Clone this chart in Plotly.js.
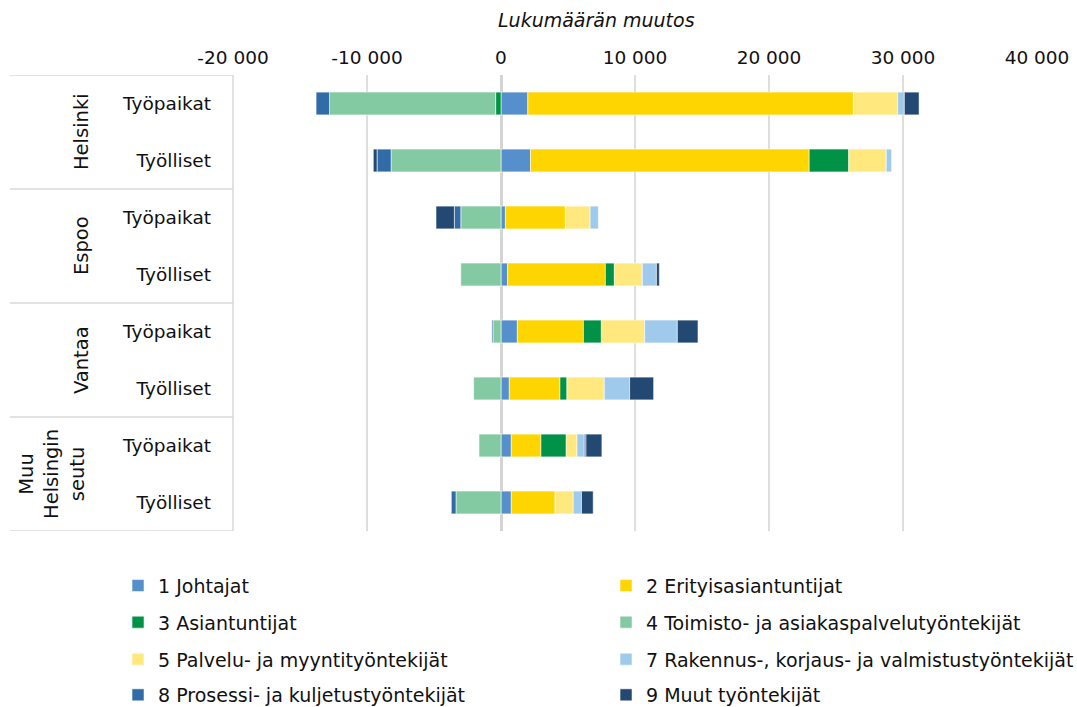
<!DOCTYPE html>
<html>
<head>
<meta charset="utf-8">
<script src="https://cdn.plot.ly/plotly-3.0.1.min.js"></script>
<style>
  html, body { margin: 0; padding: 0; background: #ffffff; }
  #chart { width: 1077px; height: 707px; }
</style>
</head>
<body>
<div id="chart"></div>
<script>
// ---- Data ----
const regions = ["Helsinki", "Helsinki", "Espoo", "Espoo", "Vantaa", "Vantaa", "Muu Helsingin seutu", "Muu Helsingin seutu"];
const kinds = ["Työpaikat", "Työlliset", "Työpaikat", "Työlliset", "Työpaikat", "Työlliset", "Työpaikat", "Työlliset"];
const groupLabels = ["Helsinki", "Espoo", "Vantaa", "Muu<br>Helsingin<br>seutu"];

const seriesNames = [
  "1 Johtajat",
  "2 Erityisasiantuntijat",
  "3 Asiantuntijat",
  "4 Toimisto- ja asiakaspalvelutyöntekijät",
  "5 Palvelu- ja myyntityöntekijät",
  "7 Rakennus-, korjaus- ja valmistustyöntekijät",
  "8 Prosessi- ja kuljetustyöntekijät",
  "9 Muut työntekijät"
];
const johtajat        = [2000, 2200, 330, 490, 1220, 620, 770, 770];
const erityis         = [24300, 20800, 4480, 7300, 4930, 3780, 2210, 3280];
const asiantuntijat   = [-400, 2950, 0, 670, 1340, 520, 1890, 0];
const toimisto        = [-12400, -8200, -3000, -3000, -600, -2040, -1640, -3360];
const palvelu         = [3300, 2800, 1840, 2090, 3230, 2790, 800, 1340];
const rakennus        = [500, 400, 620, 1050, 2440, 1890, 545, 620];
const prosessi        = [-1000, -1050, -480, 0, -80, 0, 125, -350];
const muut            = [1100, -280, -1370, 220, 1540, 1790, 1190, 870];
const seriesValues = [johtajat, erityis, asiantuntijat, toimisto, palvelu, rakennus, prosessi, muut];

const xTickVals = [-20000, -10000, 0, 10000, 20000, 30000, 40000];
const xTickText = ["-20 000", "-10 000", "0", "10 000", "20 000", "30 000", "40 000"];
const axisTitle = "Lukumäärän muutos";

// ---- Styles ----
const colors = ["#558FCC", "#FFD500", "#009246", "#83C9A2", "#FFE97F", "#A0CAEC", "#316BA8", "#234972"];
const legendIds = ["legend", "legend", "legend2", "legend2", "legend3", "legend3", "legend4", "legend4"];
const FONT = "DejaVu Sans";
const INK = "#111111";

const ids = regions.map((r, i) => r + " | " + kinds[i]);

const traces = seriesNames.map((name, k) => ({
  type: "bar",
  orientation: "h",
  name: name,
  y: ids,
  x: seriesValues[k],
  marker: { color: colors[k], line: { color: "rgba(255,255,255,0.55)", width: 1 } },
  legend: legendIds[k],
  hovertemplate: "%{y}: %{x}<extra>" + name + "</extra>"
}));

const legendBase = {
  orientation: "h",
  x: -0.1430,
  xanchor: "left",
  yanchor: "middle",
  entrywidth: 443,
  entrywidthmode: "pixels",
  bgcolor: "rgba(0,0,0,0)",
  font: { family: FONT, size: 19, color: INK },
  traceorder: "normal"
};

const lineColor = "#d9d9d9";
const shapes = [];
// horizontal group separators in the label box
[-0.5, 1.5, 3.5, 5.5, 7.5].forEach(v => {
  shapes.push({ type: "line", xref: "paper", yref: "y", x0: -0.2774, x1: 0, y0: v, y1: v,
    line: { color: lineColor, width: 1.5 } });
});
// right border of label box
shapes.push({ type: "line", xref: "paper", yref: "y", x0: 0, x1: 0, y0: -0.5, y1: 7.5,
  line: { color: lineColor, width: 1.5 } });

const annotations = [];
const groupX = [-0.1890, -0.1890, -0.1890, -0.2251];
groupLabels.forEach((g, i) => {
  annotations.push({
    xref: "paper", yref: "y", x: groupX[i], y: i * 2 + 0.5,
    text: g, showarrow: false, textangle: -90,
    font: { family: FONT, size: 19.5, color: INK },
    align: "center", xanchor: "center", yanchor: "middle"
  });
});
annotations.push({
  xref: "paper", yref: "paper", x: 0.4527, y: 1.1206,
  text: "<i>" + axisTitle + "</i>", showarrow: false,
  font: { family: FONT, size: 19, color: INK },
  xanchor: "center", yanchor: "middle"
});

const layout = {
  width: 1077,
  height: 707,
  margin: { l: 233, r: 40, t: 75, b: 176, autoexpand: false },
  paper_bgcolor: "#ffffff",
  plot_bgcolor: "#ffffff",
  font: { family: FONT, size: 18, color: INK },
  barmode: "relative",
  bargap: 0.6,
  showlegend: true,
  xaxis: {
    side: "top",
    range: [-20000, 40000],
    tickvals: xTickVals,
    ticktext: xTickText,
    ticks: "",
    showgrid: true,
    gridcolor: "#dedede",
    gridwidth: 1.5,
    zeroline: true,
    zerolinecolor: "#d4d4d4",
    zerolinewidth: 2.5,
    showline: false,
    ticklabelstandoff: 6,
    tickfont: { family: FONT, size: 18.5, color: INK },
    fixedrange: true
  },
  yaxis: {
    type: "category",
    categoryorder: "array",
    categoryarray: ids,
    range: [7.5, -0.5],
    tickvals: ids,
    ticktext: kinds,
    ticks: "",
    showgrid: false,
    zeroline: false,
    showline: false,
    ticklabelstandoff: 21,
    tickfont: { family: FONT, size: 18.5, color: INK },
    fixedrange: true
  },
  legend:  Object.assign({}, legendBase, { y: -0.120 }),
  legend2: Object.assign({}, legendBase, { y: -0.2002 }),
  legend3: Object.assign({}, legendBase, { y: -0.2814 }),
  legend4: Object.assign({}, legendBase, { y: -0.3596 }),
  shapes: shapes,
  annotations: annotations
};

Plotly.newPlot("chart", traces, layout, { displayModeBar: false, staticPlot: false });
</script>
</body>
</html>
